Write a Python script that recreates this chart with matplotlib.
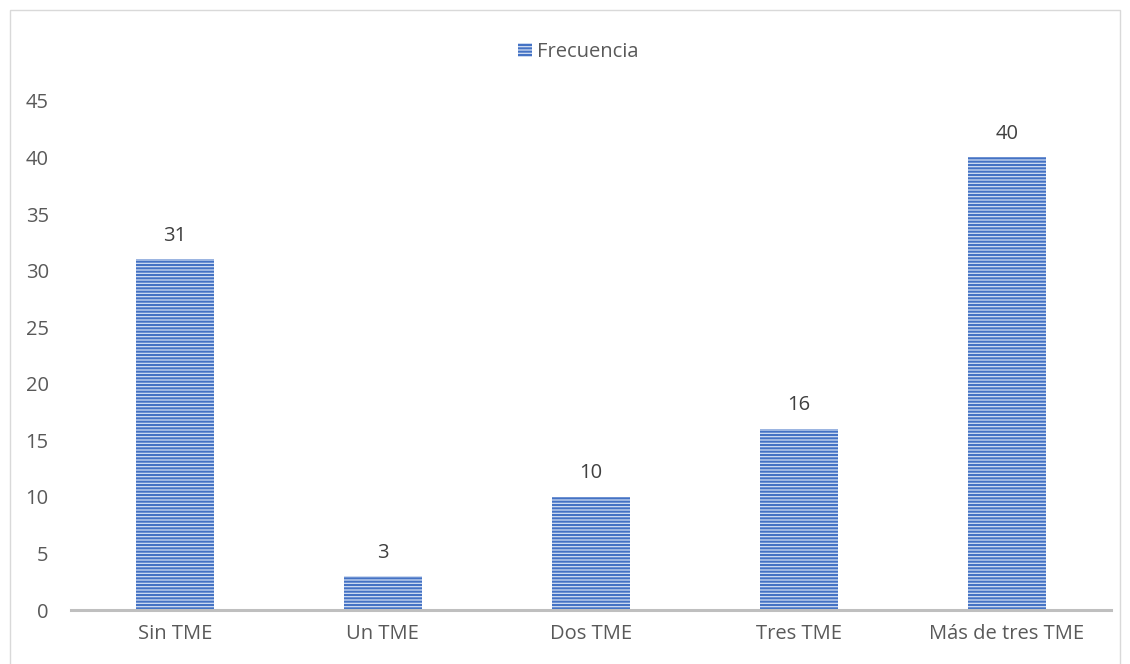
import matplotlib
matplotlib.use("Agg")
import matplotlib.pyplot as plt
from matplotlib.patches import Rectangle

categories = ["Sin TME", "Un TME", "Dos TME", "Tres TME", "Más de tres TME"]
frecuencia = [31, 3, 10, 16, 40]
yticks = list(range(0, 50, 5))

_TXT = "#595959"
_BLUE = "#4472C4"
_LIGHT = "#d2def3"
_FS = 14.5

plt.rcParams["font.family"] = ["Open Sans", "DejaVu Sans"]
plt.rcParams["hatch.linewidth"] = 1.5

fig = plt.figure(figsize=(11.3, 6.64), dpi=100)
ax = fig.add_axes([0.0628, 0.0813, 0.9202, 0.7667])

x = range(len(categories))
bars = ax.bar(x, frecuencia, width=0.375, color=_LIGHT, edgecolor=_BLUE,
              linewidth=0, hatch="-----", label="Frecuencia", zorder=2)
for b, v in zip(bars, frecuencia):
    ax.text(b.get_x() + b.get_width() / 2, v + 1.2, str(v), ha="center",
            va="bottom", fontsize=_FS, color="#404040")

ax.set_xlim(-0.5, len(categories) - 0.5)
ax.set_ylim(0, 45)
ax.set_yticks(yticks)
ax.set_xticks(list(x))
ax.set_xticklabels(categories)
ax.tick_params(axis="both", length=0, labelsize=_FS, labelcolor=_TXT)
ax.tick_params(axis="y", pad=16)
ax.tick_params(axis="x", pad=10)
for s in ("top", "right", "left"):
    ax.spines[s].set_visible(False)
ax.spines["bottom"].set_color("#BFBFBF")
ax.spines["bottom"].set_linewidth(2.2)

ax.legend(loc="lower center", bbox_to_anchor=(0.488, 1.04), frameon=False,
          fontsize=_FS, handlelength=0.7, handleheight=0.7,
          handletextpad=0.25, labelcolor=_TXT)

# outer chart border
fig.add_artist(Rectangle((10 / 1130, -0.01), 1110 / 1130, 1 - 10 / 664 + 0.01,
                         transform=fig.transFigure, fill=False,
                         edgecolor="#D9D9D9", linewidth=1.0))

fig.savefig("out.png", dpi=100)
